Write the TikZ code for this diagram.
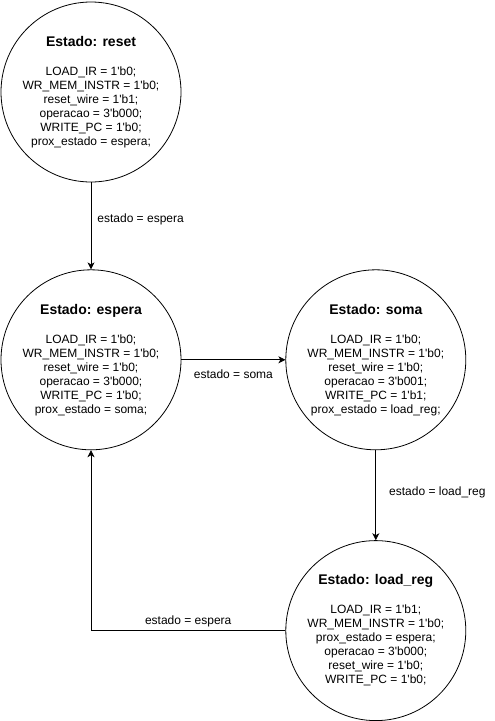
\documentclass[tikz,border=0pt]{standalone}
\usepackage{fontspec}
\setmainfont{Liberation Sans}
\usepackage{tikz}
\usetikzlibrary{arrows.meta,positioning}
\newcommand{\bq}{\textquotesingle}

\begin{document}
\begin{tikzpicture}[
  estado/.style={draw, circle, line width=0.8pt, fill=white, minimum size=180pt, inner sep=0pt,
                 align=center, font=\fontsize{12}{14}\selectfont},
  arr/.style={-{Stealth[length=7pt,width=7pt,inset=2pt]}, line width=0.8pt},
  lbl/.style={inner sep=0pt, font=\fontsize{12}{14}\selectfont}
]
  \useasboundingbox (0,0) rectangle (495pt,-721pt);
  \node[estado] (reset) at (91pt,-92pt) {{\fontsize{14}{14}\selectfont\bfseries Estado: reset}\\[15pt]
    LOAD\_IR = 1\bq b0;\\ WR\_MEM\_INSTR = 1\bq b0;\\ reset\_wire = 1\bq b1;\\ operacao = 3\bq b000;\\ WRITE\_PC = 1\bq b0;\\ prox\_estado = espera;};
  \node[estado, below=87pt of reset] (espera) {{\fontsize{14}{14}\selectfont\bfseries Estado: espera}\\[15pt]
    LOAD\_IR = 1\bq b0;\\ WR\_MEM\_INSTR = 1\bq b0;\\ reset\_wire = 1\bq b0;\\ operacao = 3\bq b000;\\ WRITE\_PC = 1\bq b0;\\ prox\_estado = soma;};
  \node[estado, right=104pt of espera] (soma) {{\fontsize{14}{14}\selectfont\bfseries Estado: soma}\\[15pt]
    LOAD\_IR = 1\bq b0;\\ WR\_MEM\_INSTR = 1\bq b0;\\ reset\_wire = 1\bq b0;\\ operacao = 3\bq b001;\\ WRITE\_PC = 1\bq b1;\\ prox\_estado = load\_reg;};
  \node[estado, below=90pt of soma] (loadreg) {{\fontsize{14}{14}\selectfont\bfseries Estado: load\_reg}\\[15pt]
    LOAD\_IR = 1\bq b1;\\ WR\_MEM\_INSTR = 1\bq b0;\\ prox\_estado = espera;\\ operacao = 3\bq b000;\\ reset\_wire = 1\bq b0;\\ WRITE\_PC = 1\bq b0;};
  \draw[arr] (reset) -- node[lbl, pos=0.42, anchor=west, xshift=6pt] (lreset) {estado = espera} (espera);
  \draw[arr] (espera) -- node[lbl, below=10pt] (lespera) {estado = soma} (soma);
  \draw[arr] (soma) -- node[lbl, pos=0.47, anchor=west, xshift=13pt] (lsoma) {estado = load\_reg} (loadreg);
  \draw[arr] (loadreg.west) -| node[lbl, pos=0.25, above=3pt] (lload) {estado = espera} (espera.south);
\end{tikzpicture}
\end{document}
